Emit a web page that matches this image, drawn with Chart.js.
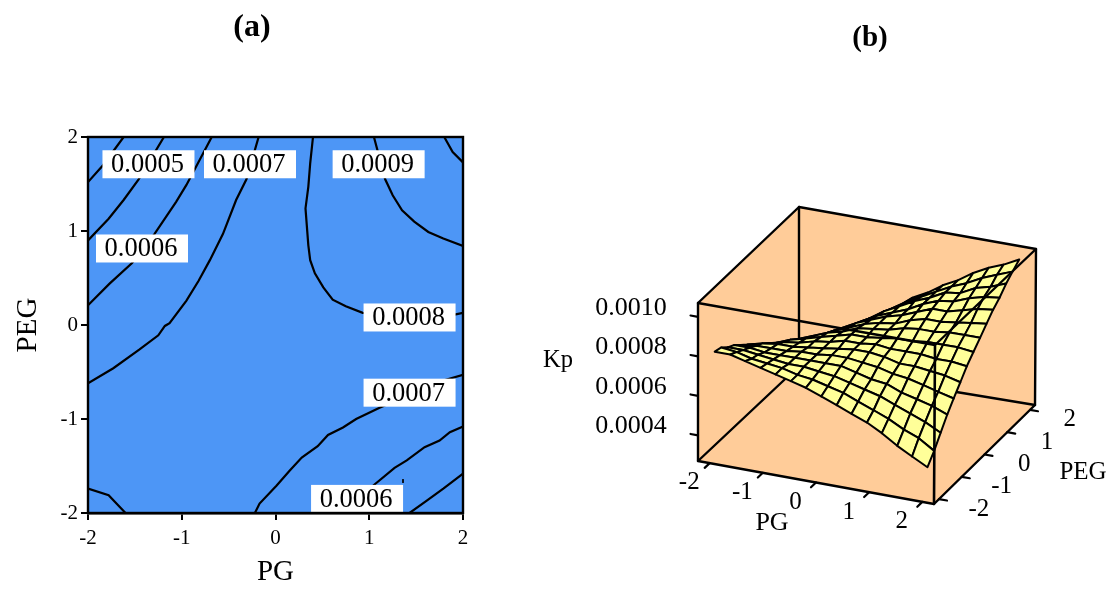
<!DOCTYPE html>
<html>
<head>
<meta charset="utf-8">
<title>Kp contour and surface</title>
<script src="https://cdn.jsdelivr.net/npm/chart.js@4/dist/chart.umd.min.js"></script>
<style>
  html, body { margin: 0; background: #fff; }
  canvas { position: absolute; top: 0; }
  #contourChart { left: 0; }
  #surfaceChart { left: 504px; }
</style>
</head>
<body>
<canvas id="contourChart" width="504" height="590"></canvas>
<canvas id="surfaceChart" width="609" height="590"></canvas>
<script>
// ===============================
// (a) contour lines
// ===============================
const axisTicks = [-2, -1, 0, 1, 2];

const c0004Pg = [-2, -1.84, -1.62];
const c0004Peg = [1.52, 1.70, 2];
const c0005Pg = [-2, -1.78, -1.62, -1.46, -1.19];
const c0005Peg = [0.90, 1.13, 1.33, 1.55, 2];
const c0006Pg = [-2, -1.77, -1.53, -1.29, -1.06, -0.95, -0.68];
const c0006Peg = [0.21, 0.44, 0.66, 0.97, 1.31, 1.49, 2];
const c0007Pg = [-2, -1.73, -1.45, -1.25, -1.18, -1.13, -0.95, -0.82, -0.70, -0.56, -0.42, -0.31, -0.18];
const c0007Peg = [-0.62, -0.46, -0.26, -0.11, -0.01, 0.02, 0.26, 0.47, 0.69, 0.97, 1.33, 1.55, 2];
const c0008Pg = [0.40, 0.37, 0.35, 0.32, 0.35, 0.37, 0.42, 0.51, 0.61, 0.75, 0.93, 1.91, 2];
const c0008Peg = [2, 1.72, 1.47, 1.24, 0.85, 0.69, 0.55, 0.40, 0.27, 0.20, 0.13, 0.11, 0.13];
const c0009Pg = [1.05, 1.17, 1.25, 1.35, 1.48, 1.63, 1.79, 2];
const c0009Peg = [2, 1.55, 1.38, 1.22, 1.10, 0.99, 0.92, 0.84];
const c0010Pg = [1.80, 1.89, 2];
const c0010Peg = [2, 1.84, 1.73];
const lower0008Pg = [-2, -1.78, -1.60];
const lower0008Peg = [-1.74, -1.81, -2];
const lower0007Pg = [-0.22, -0.17, 0.01, 0.15, 0.28, 0.45, 0.56, 0.72, 0.86, 1.11, 1.79, 2];
const lower0007Peg = [-2, -1.90, -1.71, -1.55, -1.41, -1.29, -1.17, -1.09, -1.0, -0.88, -0.59, -0.53];
const lower0006Pg = [0.70, 1.04, 1.27, 1.40, 1.59, 1.75, 1.86, 2];
const lower0006Peg = [-2, -1.71, -1.52, -1.44, -1.30, -1.23, -1.14, -1.08];
const lower0005Pg = [1.43, 1.61, 1.79, 2];
const lower0005Peg = [-2, -1.87, -1.74, -1.58];
const strayPg = [1.36, 1.36];
const strayPeg = [-1.64, -1.68];

const contourLines = [
  [c0004Pg, c0004Peg], [c0005Pg, c0005Peg], [c0006Pg, c0006Peg], [c0007Pg, c0007Peg],
  [c0008Pg, c0008Peg], [c0009Pg, c0009Peg], [c0010Pg, c0010Peg], [lower0008Pg, lower0008Peg],
  [lower0007Pg, lower0007Peg], [lower0006Pg, lower0006Peg], [lower0005Pg, lower0005Peg]
];

const labelTexts = ["0.0005", "0.0007", "0.0009", "0.0006", "0.0008", "0.0007", "0.0006"];
const labelPg = [-1.355, -0.272, 1.10, -1.424, 1.43, 1.43, 0.87];
const labelPeg = [1.71, 1.71, 1.71, 0.814, 0.08, -0.72, -1.85];

// ===============================
// (b) surface: Kp on the PG / PEG grid, one row per PG value
// ===============================
const gridPg = [-2, -1.71, -1.43, -1.14, -0.86, -0.57, -0.29, 0, 0.29, 0.57, 0.86, 1.14, 1.43, 1.71, 2];
const gridPeg = [-2, -1.71, -1.43, -1.14, -0.86, -0.57, -0.29, 0, 0.29, 0.57, 0.86, 1.14, 1.43, 1.71, 2];
const kpGrid = [
  [.00081, .00080, .00077, .00075, .00072, .00069, .00066, .00063, .00059, .00055, .00051, .00046, .00042, .00037, .00033],
  [.00081, .00079, .00077, .00075, .00073, .00071, .00068, .00065, .00062, .00059, .00055, .00051, .00046, .00041, .00037],
  [.00079, .00077, .00076, .00074, .00073, .00072, .00070, .00068, .00065, .00062, .00059, .00056, .00052, .00049, .00045],
  [.00077, .00076, .00075, .00074, .00073, .00072, .00071, .00070, .00068, .00065, .00063, .00060, .00057, .00054, .00051],
  [.00075, .00075, .00074, .00074, .00074, .00073, .00073, .00072, .00071, .00069, .00067, .00064, .00062, .00060, .00058],
  [.00073, .00073, .00074, .00074, .00074, .00074, .00074, .00074, .00073, .00072, .00071, .00069, .00067, .00065, .00063],
  [.00071, .00072, .00073, .00074, .00075, .00075, .00076, .00076, .00076, .00075, .00074, .00073, .00072, .00070, .00068],
  [.00068, .00070, .00072, .00074, .00075, .00076, .00076, .00076, .00077, .00077, .00077, .00076, .00076, .00075, .00074],
  [.00065, .00068, .00070, .00072, .00074, .00076, .00077, .00077, .00078, .00078, .00079, .00079, .00080, .00079, .00078],
  [.00062, .00065, .00068, .00070, .00073, .00075, .00076, .00078, .00080, .00081, .00082, .00083, .00083, .00083, .00083],
  [.00059, .00062, .00066, .00069, .00071, .00073, .00076, .00078, .00081, .00083, .00085, .00086, .00087, .00087, .00087],
  [.00055, .00059, .00063, .00066, .00070, .00073, .00076, .00079, .00081, .00083, .00085, .00087, .00088, .00090, .00092],
  [.00050, .00055, .00060, .00064, .00068, .00072, .00075, .00079, .00082, .00084, .00087, .00090, .00092, .00094, .00096],
  [.00046, .00052, .00057, .00062, .00066, .00071, .00075, .00079, .00082, .00085, .00089, .00092, .00094, .00097, .00099],
  [.00042, .00047, .00053, .00059, .00064, .00069, .00074, .00078, .00082, .00086, .00090, .00093, .00097, .00100, .00103]
];
const kpTicks = [0.0004, 0.0006, 0.0008, 0.0010];
const kpTickLabels = ["0.0004", "0.0006", "0.0008", "0.0010"];
const surfaceTicks = [-2, -1, 0, 1, 2];

const SERIF = "'Liberation Serif', 'Times New Roman', serif";

// ===============================
// Contour chart
// ===============================
const contourPlugin = {
  id: "contourExtras",
  beforeDatasetsDraw(chart) {
    const { ctx, chartArea: a } = chart;
    ctx.save();
    ctx.fillStyle = "#4d96f6";
    ctx.fillRect(a.left, a.top, a.width, a.height);
    ctx.restore();
  },
  afterDatasetsDraw(chart) {
    const { ctx, chartArea: a, scales } = chart;
    ctx.save();
    ctx.font = "26.5px " + SERIF;
    ctx.textAlign = "center";
    ctx.textBaseline = "middle";
    labelTexts.forEach((t, i) => {
      const x = scales.x.getPixelForValue(labelPg[i]);
      const y = scales.y.getPixelForValue(labelPeg[i]);
      ctx.fillStyle = "#fff";
      ctx.fillRect(x - 46, y - 14, 92, 28);
      ctx.fillStyle = "#000";
      ctx.fillText(t, x - 1, y + 1);
    });
    ctx.strokeStyle = "#000";
    ctx.lineWidth = 2.4;
    ctx.strokeRect(a.left, a.top, a.width, a.height);
    ctx.fillStyle = "#000";
    ctx.font = "bold 32px " + SERIF;
    ctx.fillText("(a)", 252, 28);
    ctx.restore();
  }
};

const contourDatasets = contourLines.map(([xs, ys]) => ({
  data: xs.map((x, i) => ({ x, y: ys[i] })),
  showLine: true,
  borderColor: "#000",
  borderWidth: 2.2,
  pointRadius: 0,
  tension: 0
}));
contourDatasets.push({
  data: strayPg.map((x, i) => ({ x, y: strayPeg[i] })),
  showLine: true,
  borderColor: "#000",
  borderWidth: 1,
  pointRadius: 0
});

function axisOptions(titleText, fit, titleOffset, tickPadding) {
  return {
    type: "linear",
    min: -2,
    max: 2,
    afterBuildTicks: s => { s.ticks = axisTicks.map(value => ({ value })); },
    afterFit: fit,
    title: { display: true, text: titleText, color: "#000", font: { family: SERIF, size: 29 }, padding: { top: titleOffset, bottom: 0 } },
    border: { display: true, color: "#000", width: 2.4 },
    grid: { drawOnChartArea: false, drawTicks: true, tickLength: 7, color: "#000", lineWidth: 2 },
    ticks: { color: "#000", font: { family: SERIF, size: 21 }, padding: tickPadding, maxRotation: 0, autoSkip: false }
  };
}

new Chart(document.getElementById("contourChart"), {
  type: "scatter",
  data: { datasets: contourDatasets },
  plugins: [contourPlugin],
  options: {
    responsive: false,
    animation: false,
    layout: { padding: { top: 137, right: 41 } },
    plugins: {
      legend: { display: false },
      tooltip: { enabled: false }
    },
    scales: {
      x: axisOptions("PG", s => { s.height = 77; }, 4, 6),
      y: axisOptions("PEG", s => { s.width = 88; }, 11, 3)
    }
  }
});

// ===============================
// Surface chart: box corners as seen on the page, trilinear projection
// ===============================
const BOX = 2.22;
const KP_MIN = 0.00027;
const KP_MAX = 0.00107;
const floorCorners = [[698, 461], [934, 504], [799, 366], [1035, 405]];
const roofCorners = [[698, 303], [935, 345], [799, 207], [1036, 249]];

function bilinear(c, u, v, k) {
  return (1 - u) * (1 - v) * c[0][k] + u * (1 - v) * c[1][k] + (1 - u) * v * c[2][k] + u * v * c[3][k];
}

function project(pg, peg, kp) {
  const u = (pg + BOX) / (2 * BOX);
  const v = (peg + BOX) / (2 * BOX);
  const w = (kp - KP_MIN) / (KP_MAX - KP_MIN);
  const bx = bilinear(floorCorners, u, v, 0), by = bilinear(floorCorners, u, v, 1);
  const tx = bilinear(roofCorners, u, v, 0), ty = bilinear(roofCorners, u, v, 1);
  return { x: bx + (tx - bx) * w, y: by + (ty - by) * w };
}

function stroke(points, width) {
  return { data: points, showLine: true, borderColor: "#000", borderWidth: width, pointRadius: 0, tension: 0, borderCapStyle: "round", borderJoinStyle: "round" };
}
function filled(points, color, width) {
  return Object.assign(stroke(points.concat([points[0]]), width), { fill: "shape", backgroundColor: color });
}

const f00 = project(-BOX, -BOX, KP_MIN), f10 = project(BOX, -BOX, KP_MIN);
const f01 = project(-BOX, BOX, KP_MIN), f11 = project(BOX, BOX, KP_MIN);
const r00 = project(-BOX, -BOX, KP_MAX), r10 = project(BOX, -BOX, KP_MAX);
const r01 = project(-BOX, BOX, KP_MAX), r11 = project(BOX, BOX, KP_MAX);

// listed bottom layer first, reversed below because Chart.js paints index 0 last
const layers = [];
layers.push(filled([r00, r01, r11, f11, f10, f00], "#ffcc99", 2.4));
layers.push(stroke([r01, f01], 2.4), stroke([f00, f01, f11], 2.4));

const quads = [];
for (let i = 0; i < gridPg.length - 1; i++) {
  for (let j = 0; j < gridPeg.length - 1; j++) {
    const depth = project((gridPg[i] + gridPg[i + 1]) / 2, (gridPeg[j] + gridPeg[j + 1]) / 2, KP_MIN).y;
    quads.push({
      depth,
      points: [
        project(gridPg[i], gridPeg[j], kpGrid[i][j]),
        project(gridPg[i + 1], gridPeg[j], kpGrid[i + 1][j]),
        project(gridPg[i + 1], gridPeg[j + 1], kpGrid[i + 1][j + 1]),
        project(gridPg[i], gridPeg[j + 1], kpGrid[i][j + 1])
      ]
    });
  }
}
quads.sort((a, b) => a.depth - b.depth);
quads.forEach(q => layers.push(filled(q.points, "#ffff99", 2)));

layers.push(stroke([r00, r10, r11], 2.4), stroke([r10, f10], 2.6));

// axis tick marks
surfaceTicks.forEach(t => {
  layers.push(stroke([project(t, -BOX, KP_MIN), project(t, -BOX - 0.22, KP_MIN)], 2.2));
  layers.push(stroke([project(BOX, t, KP_MIN), project(BOX + 0.15, t, KP_MIN)], 2.2));
});
kpTicks.forEach(k => {
  layers.push(stroke([project(-BOX, -BOX, k), project(-BOX - 0.14, -BOX, k)], 2.2));
});

const surfacePlugin = {
  id: "surfaceText",
  afterDatasetsDraw(chart) {
    const { ctx, scales } = chart;
    const put = (text, p, size, weight) => {
      ctx.font = (weight || "") + " " + size + "px " + SERIF;
      ctx.fillText(text, scales.x.getPixelForValue(p.x), scales.y.getPixelForValue(p.y));
    };
    ctx.save();
    ctx.fillStyle = "#000";
    ctx.textAlign = "center";
    ctx.textBaseline = "middle";
    surfaceTicks.forEach(t => {
      put(String(t), project(t, -BOX - 0.9, KP_MIN), 25);
      const p = project(BOX + 0.75, t, KP_MIN);
      put(String(t), { x: p.x, y: p.y + 3 }, 25);
    });
    kpTicks.forEach((k, i) => {
      const p = project(-BOX, -BOX, k);
      put(kpTickLabels[i], { x: p.x - 67, y: p.y - 9 }, 26);
    });
    put("Kp", { x: 558, y: 361 }, 24.5);
    put("PG", { x: 772, y: 523 }, 26);
    put("PEG", { x: 1083, y: 472 }, 25);
    put("(b)", { x: 870, y: 39 }, 29, "bold");
    ctx.restore();
  }
};

new Chart(document.getElementById("surfaceChart"), {
  type: "scatter",
  data: { datasets: layers.reverse() },
  plugins: [surfacePlugin],
  options: {
    responsive: false,
    animation: false,
    layout: { padding: 0 },
    plugins: { legend: { display: false }, tooltip: { enabled: false } },
    scales: {
      x: { type: "linear", min: 504, max: 1113, display: false },
      y: { type: "linear", min: 0, max: 590, reverse: true, display: false }
    }
  }
});
</script>
</body>
</html>
